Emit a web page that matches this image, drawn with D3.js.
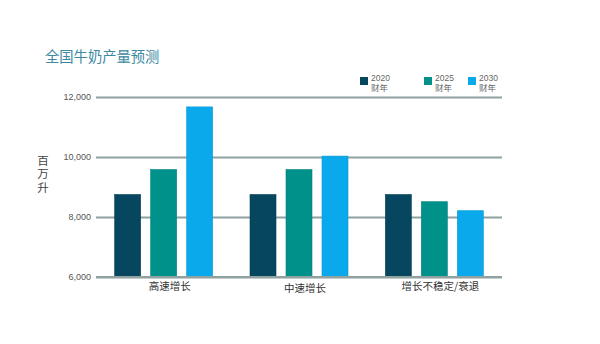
<!DOCTYPE html>
<html><head><meta charset="utf-8">
<script src="https://cdn.jsdelivr.net/npm/d3@7"></script>
<style>body{margin:0;background:#fff;}svg{display:block;font-family:"Noto Sans CJK SC","Noto Sans",sans-serif;}</style>
</head><body>
<svg id="c" width="600" height="344"></svg>
<script>
const title = "全国牛奶产量预测";
const yLabel = "百万升";
const categories = ["高速增长", "中速增长", "增长不稳定/衰退"];
const seriesNames = ["2020", "2025", "2030"];
const seriesSub = "财年";
const values2020 = [8750, 8750, 8750];
const values2025 = [9580, 9580, 8510];
const values2030 = [11670, 10030, 8210];
const yTicks = [6000, 8000, 10000, 12000];
const colors = ["#06465f", "#00918a", "#0aa9ec"];

const svg = d3.select("#c");
const m = {l: 96, r: 98, t: 97, b: 67};
const W = 600, H = 344;
const x0 = d3.scaleBand().domain(categories).range([m.l, W - m.r]).paddingInner(0.276).paddingOuter(0.138);
const x1 = d3.scaleBand().domain(seriesNames).range([0, x0.bandwidth()]).paddingInner(0.278);
const y = d3.scaleLinear().domain([6000, 12000]).range([H - m.b, m.t]);

svg.append("text").attr("x", 45).attr("y", 62).attr("fill", "#3c8a9f")
  .attr("font-size", 14.3).text(title);

// grid + axis
const yAxis = d3.axisLeft(y).tickValues(yTicks).tickFormat(d3.format(",")).tickSize(-(W - m.l - m.r)).tickPadding(5);
const g = svg.append("g").attr("transform", `translate(${m.l},0)`).call(yAxis);
g.select(".domain").remove();
g.selectAll(".tick line").attr("stroke", "#8fa1a1").attr("stroke-width", 2);
g.selectAll(".tick text").attr("fill", "#555").attr("font-size", 9).attr("font-family", "Liberation Sans, Arial, sans-serif");

// y label stacked
const cjkFirstLatin = "'Liberation Sans', 'Noto Sans CJK SC', sans-serif";
svg.append("g").selectAll("text").data(yLabel.split("")).join("text")
  .attr("x", 43).attr("y", (d, i) => 164.5 + i * 13.5)
  .attr("fill", "#444").attr("font-size", 11.5).attr("text-anchor", "middle")
  .attr("font-family", cjkFirstLatin).text(d => d);

const series = [values2020, values2025, values2030];
const groups = svg.append("g").selectAll("g").data(categories).join("g")
  .attr("transform", d => `translate(${x0(d)},0)`);
groups.selectAll("rect").data((d, ci) => seriesNames.map((s, si) => ({s, si, v: series[si][ci]})))
  .join("rect")
  .attr("x", d => x1(d.s)).attr("width", x1.bandwidth())
  .attr("y", d => y(d.v)).attr("height", d => y(6000) - y(d.v))
  .attr("fill", d => colors[d.si])
  .attr("stroke", d => d3.color(colors[d.si]).darker(0.3)).attr("stroke-width", 0.6);

// baseline redraw on top
svg.append("line").attr("x1", m.l).attr("x2", W - m.r).attr("y1", y(6000)).attr("y2", y(6000))
  .attr("stroke", "#8fa1a1").attr("stroke-width", 2);

// category labels
svg.append("g").selectAll("text").data(categories).join("text")
  .attr("x", d => x0(d) + x0.bandwidth() / 2 + 6).attr("y", (d, i) => i === 1 ? 292 : 290)
  .attr("text-anchor", "middle").attr("font-size", 10.5).attr("fill", "#333").text(d => d);

// legend
const lx = [360, 424, 468];
const lg = svg.append("g").selectAll("g").data(seriesNames).join("g")
  .attr("transform", (d, i) => `translate(${lx[i]},0)`);
lg.append("rect").attr("x", 0).attr("y", 77).attr("width", 8).attr("height", 8).attr("fill", (d, i) => colors[i]);
lg.append("text").attr("x", 11).attr("y", 80.5).attr("font-size", 8.5).attr("fill", "#666")
  .attr("font-family", "Liberation Sans, Arial, sans-serif").text(d => d);
lg.append("text").attr("x", 11).attr("y", 91).attr("font-size", 8.5).attr("fill", "#666")
  .attr("font-family", cjkFirstLatin).text(seriesSub);
</script>
</body></html>
